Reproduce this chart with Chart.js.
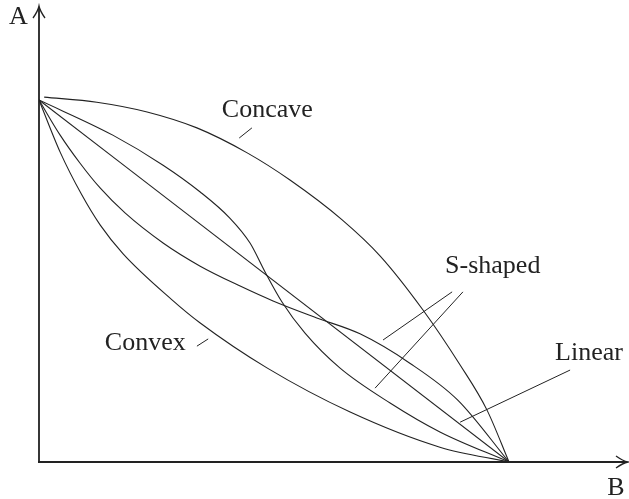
<!DOCTYPE html>
<html>
<head>
<meta charset="utf-8">
<title>Curve shapes</title>
<script src="https://cdn.jsdelivr.net/npm/chart.js"></script>
<style>
  html, body { margin: 0; padding: 0; background: #fff; }
  #wrap { width: 629px; height: 499px; }
</style>
</head>
<body>
<div id="wrap"><canvas id="shapes" width="629" height="499"></canvas></div>
<script>
// curve values (x along B, y along A)
const concaveX = [0.011, 0.123, 0.230, 0.336, 0.443, 0.534, 0.645, 0.726, 0.817, 0.896, 0.953, 1];
const concaveY = [1.008, 0.994, 0.967, 0.923, 0.854, 0.779, 0.669, 0.569, 0.420, 0.268, 0.144, 0];

const linearX = [0, 1];
const linearY = [1, 0];

// S-shaped, starts above the line
const sUpperX = [0, 0.157, 0.264, 0.343, 0.406, 0.449, 0.481, 0.517, 0.566, 0.640, 0.747, 0.853, 1];
const sUpperY = [1, 0.903, 0.820, 0.746, 0.674, 0.605, 0.525, 0.442, 0.356, 0.260, 0.163, 0.083, 0];

// S-shaped, starts below the line
const sLowerX = [0, 0.045, 0.087, 0.130, 0.183, 0.264, 0.343, 0.428, 0.498, 0.591, 0.683, 0.789, 0.891, 1];
const sLowerY = [1, 0.903, 0.826, 0.757, 0.688, 0.605, 0.541, 0.486, 0.445, 0.398, 0.354, 0.273, 0.171, 0];

const convexX = [0, 0.045, 0.091, 0.130, 0.179, 0.283, 0.343, 0.485, 0.662, 0.853, 1];
const convexY = [1, 0.856, 0.738, 0.655, 0.575, 0.448, 0.384, 0.260, 0.138, 0.041, 0];

const axisNames = ['A', 'B'];
const curveNames = ['Concave', 'S-shaped', 'Linear', 'Convex'];

// where the names and their little pointer lines sit, in data units
const notes = [
  { text: 'Concave', at: [0.389, 0.953], lines: [[0.426, 0.895, 0.453, 0.923]] },
  { text: 'S-shaped', at: [0.864, 0.522], lines: [[0.732, 0.337, 0.879, 0.470], [0.715, 0.204, 0.902, 0.470]] },
  { text: 'Linear', at: [1.098, 0.282], lines: [[0.896, 0.110, 1.130, 0.254]] },
  { text: 'Convex', at: [0.140, 0.309], lines: [[0.336, 0.320, 0.360, 0.340]] }
];

const X_MAX = 1.2532, Y_MAX = 1.2597;
const ink = '#222';
const serif = '"Liberation Serif", "DejaVu Serif", serif';

function pts(xs, ys) {
  return xs.map((x, i) => ({ x: x, y: ys[i] }));
}

function curve(name, xs, ys) {
  return {
    label: name,
    data: pts(xs, ys),
    showLine: true,
    borderColor: ink,
    borderWidth: 1.1,
    pointRadius: 0,
    cubicInterpolationMode: 'monotone',
    fill: false
  };
}

const arrowAxes = {
  id: 'arrowAxes',
  afterDatasetsDraw(chart) {
    const c = chart.ctx;
    const xs = chart.scales.x, ys = chart.scales.y;
    const ox = xs.getPixelForValue(0), oy = ys.getPixelForValue(0);
    const tx = xs.getPixelForValue(X_MAX), ty = ys.getPixelForValue(Y_MAX);
    c.save();
    c.strokeStyle = ink;
    c.lineWidth = 1.8;
    c.beginPath();
    c.moveTo(ox, oy); c.lineTo(ox, ty + 1);
    c.moveTo(ox - 1, oy); c.lineTo(tx - 1, oy);
    c.stroke();
    // latex-ish arrow heads
    c.lineWidth = 1.3;
    c.beginPath();
    c.moveTo(ox - 6, ty + 12); c.quadraticCurveTo(ox - 1, ty + 5, ox, ty);
    c.quadraticCurveTo(ox + 1, ty + 5, ox + 6, ty + 12);
    c.moveTo(tx - 12, oy - 6); c.quadraticCurveTo(tx - 5, oy - 1, tx, oy);
    c.quadraticCurveTo(tx - 5, oy + 1, tx - 12, oy + 6);
    c.stroke();

    c.fillStyle = ink;
    c.font = '26px ' + serif;
    c.textBaseline = 'alphabetic';
    c.fillText(axisNames[0], xs.getPixelForValue(-0.064), ys.getPixelForValue(1.210));
    c.fillText(axisNames[1], xs.getPixelForValue(1.209), ys.getPixelForValue(-0.091));

    c.lineWidth = 1;
    notes.forEach(n => {
      c.fillText(n.text, xs.getPixelForValue(n.at[0]), ys.getPixelForValue(n.at[1]));
      n.lines.forEach(l => {
        c.beginPath();
        c.moveTo(xs.getPixelForValue(l[0]), ys.getPixelForValue(l[1]));
        c.lineTo(xs.getPixelForValue(l[2]), ys.getPixelForValue(l[3]));
        c.stroke();
      });
    });
    c.restore();
  }
};

new Chart(document.getElementById('shapes'), {
  type: 'scatter',
  data: {
    datasets: [
      curve(curveNames[0], concaveX, concaveY),
      curve(curveNames[1], sUpperX, sUpperY),
      curve(curveNames[2], linearX, linearY),
      curve(curveNames[1], sLowerX, sLowerY),
      curve(curveNames[3], convexX, convexY)
    ]
  },
  options: {
    responsive: false,
    animation: false,
    layout: { padding: { left: 39, right: 1, top: 6, bottom: 37 } },
    plugins: { legend: { display: false }, tooltip: { enabled: false } },
    scales: {
      x: { type: 'linear', min: 0, max: X_MAX, display: false },
      y: { type: 'linear', min: 0, max: Y_MAX, display: false }
    }
  },
  plugins: [arrowAxes]
});
</script>
</body>
</html>
